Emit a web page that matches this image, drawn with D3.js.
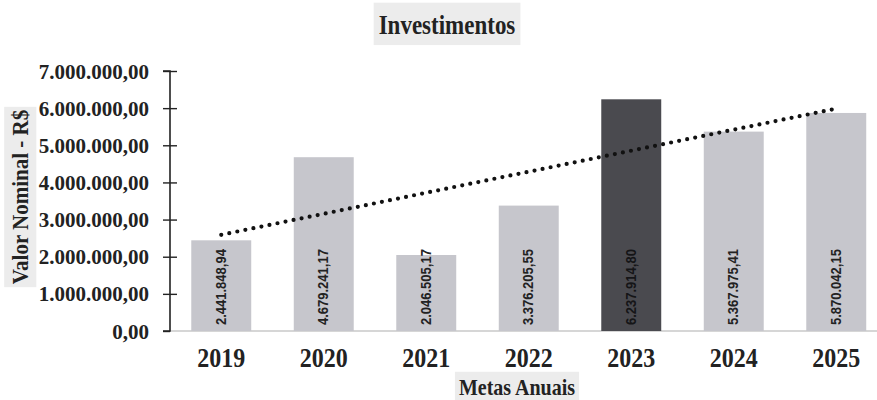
<!DOCTYPE html>
<html><head><meta charset="utf-8">
<script src="https://cdn.jsdelivr.net/npm/d3@7"></script>
<style>
html,body{margin:0;padding:0;background:#fff;}
svg{display:block;}
</style></head>
<body>
<svg id="chart" width="877" height="400"></svg>
<script>
const categories = ["2019","2020","2021","2022","2023","2024","2025"];
const values = [2441848.94, 4679241.17, 2046505.17, 3376205.55, 6237914.80, 5367975.41, 5870042.15];
const highlight = ["2023"];
const yTicks = [0,1000000,2000000,3000000,4000000,5000000,6000000,7000000];
const title = "Investimentos";
const xTitle = "Metas Anuais";
const yTitle = "Valor Nominal - R$";

const svg = d3.select("#chart");
const serif = "'Liberation Serif','Times New Roman',serif";
const loc = d3.formatLocale({decimal:",", thousands:".", grouping:[3], currency:["R$ ",""]});
const fmt = loc.format(",.2f");

const x = d3.scaleBand().domain(categories).range([170, 887.5]).paddingInner(0.415).paddingOuter(0.2075);
const y = d3.scaleLinear().domain([0, 7000000]).range([331, 71]);

// baseline
svg.append("line").attr("x1",170).attr("x2",877).attr("y1",y(0)).attr("y2",y(0))
  .attr("stroke","#c8c8c8").attr("stroke-width",1.5);

// bars
svg.append("g").selectAll("rect").data(categories).join("rect")
  .attr("x", d=>x(d)).attr("width", x.bandwidth())
  .attr("y", (d,i)=>y(values[i])).attr("height",(d,i)=>y(0)-y(values[i]))
  .attr("fill", d=>highlight.includes(d)?"#4a4a4f":"#c6c6cc");

// value labels
svg.append("g").selectAll("text").data(categories).join("text")
  .attr("transform",(d)=>`translate(${x(d)+x.bandwidth()/2+4.5},${y(0)-6}) rotate(-90) scale(1,1.1)`)
  .attr("text-anchor","start")
  .style("font-family","'Liberation Sans Narrow','Arial Narrow','Liberation Sans',sans-serif")
  .style("font-size","13px").style("font-weight","bold")
  .attr("fill", d=>highlight.includes(d)?"#151517":"#222")
  .text((d,i)=>fmt(values[i]));

// trend line (least squares)
const n = values.length;
const xi = d3.range(n);
const mx = d3.mean(xi), my = d3.mean(values);
const slope = d3.sum(xi.map(i=>(i-mx)*(values[i]-my))) / d3.sum(xi.map(i=>(i-mx)*(i-mx)));
const icpt = my - slope*mx;
const c0 = x(categories[0])+x.bandwidth()/2, c1 = x(categories[n-1])+x.bandwidth()/2;
svg.append("line")
  .attr("x1",c0).attr("y1",y(icpt))
  .attr("x2",c1).attr("y2",y(icpt+slope*(n-1)))
  .attr("stroke","#111").attr("stroke-width",4.2)
  .attr("stroke-linecap","round").attr("stroke-dasharray","0 8.2");

// y axis
const yAxis = svg.append("g").attr("transform","translate(170,0)")
  .call(d3.axisLeft(y).tickValues(yTicks).tickFormat(fmt).tickSize(7).tickPadding(14));
yAxis.select(".domain").attr("stroke","#222").attr("stroke-width",1.6).attr("d","M-7,71H0V331H-7");
yAxis.selectAll(".tick line").attr("stroke","#222").attr("stroke-width",1.4);
yAxis.selectAll(".tick").filter(d=>d>0).append("line").attr("x1",0).attr("x2",7)
  .attr("stroke","#222").attr("stroke-width",1.4);
yAxis.selectAll(".tick text").style("font-family",serif).style("font-size","21px")
  .style("font-weight","bold").attr("fill","#222").attr("dy","0.34em");

// x labels
svg.append("g").selectAll("text").data(categories).join("text")
  .attr("transform", d=>`translate(${x(d)+x.bandwidth()/2},367) scale(1,1.15)`)
  .attr("text-anchor","middle")
  .style("font-family",serif).style("font-size","24px").style("font-weight","bold")
  .attr("fill","#222").text(d=>d);

// titles with grey boxes
function boxedText(tx, ty, txt, size, rot, px, py, sy){
  const g = svg.append("g").attr("transform",`translate(${tx},${ty})${rot?" rotate(-90)":""}`);
  const r = g.append("rect").attr("fill","#ececec");
  const t = g.append("text").attr("text-anchor","middle").attr("dy","0.35em")
    .attr("transform",`scale(1,${sy})`)
    .style("font-family",serif).style("font-size",size+"px").style("font-weight","bold")
    .attr("fill","#222").text(txt);
  const bb = t.node().getBBox();
  r.attr("x",bb.x-px).attr("y",bb.y*sy-py).attr("width",bb.width+2*px).attr("height",bb.height*sy+2*py);
}
boxedText(447, 24, title, 23, false, 5, 6, 1.2);
boxedText(517, 387, xTitle, 20, false, 4, 3, 1.15);
boxedText(20, 197, yTitle, 21, true, 3, 3, 1.1);
</script>
</body></html>
